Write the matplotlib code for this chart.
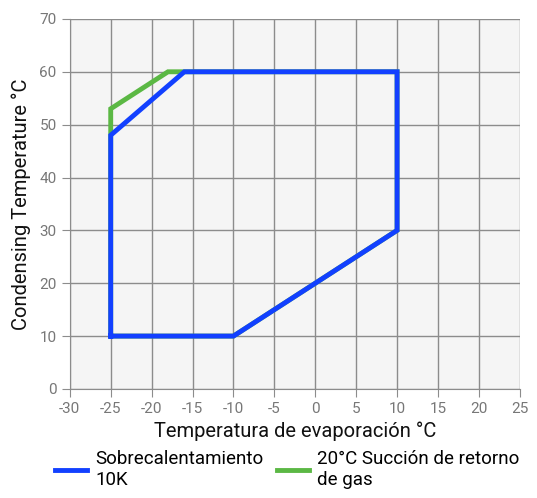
import matplotlib.pyplot as plt

plt.rcParams['font.family'] = ['Roboto', 'DejaVu Sans']
plt.rcParams['axes.unicode_minus'] = False

# envelope for 10K superheat
blue_x = [-25, -10, 10, 10, -16, -25, -25]
blue_y = [10, 10, 30, 60, 60, 48, 10]
# envelope for 20°C return gas
green_x = [-25, -10, 10, 10, -18, -25, -25]
green_y = [10, 10, 30, 60, 60, 53, 10]

x_ticks = list(range(-30, 30, 5))
y_ticks = list(range(0, 80, 10))

fig = plt.figure(figsize=(5.37, 4.98), dpi=100)
ax = fig.add_axes([0.130, 0.219, 0.838, 0.743])
ax.set_facecolor('#f5f5f5')

ax.plot(green_x, green_y, color='#5bb844', lw=3.5, solid_joinstyle='miter', zorder=3,
        label='20°C Succión de retorno\nde gas')
ax.plot(blue_x, blue_y, color='#1240ff', lw=3.5, solid_joinstyle='miter', zorder=4,
        label='Sobrecalentamiento\n10K')

ax.set_xlim(-30, 25)
ax.set_ylim(0, 70)
ax.set_xticks(x_ticks)
ax.set_yticks(y_ticks)
ax.grid(True, color='#8c8c8c', lw=1)
ax.set_axisbelow(True)
for s in ['top', 'right']:
    ax.spines[s].set_visible(False)
for s in ['left', 'bottom']:
    ax.spines[s].set_color('#8c8c8c')
ax.tick_params(colors='#8c8c8c', labelsize=11, length=6, labelcolor='#777777')

ax.set_xlabel('Temperatura de evaporación °C', fontsize=14.5, color='#111111', labelpad=4)
ax.set_ylabel('Condensing Temperature °C', fontsize=14.5, color='#111111', labelpad=6)

fig.text(0.535, 1.018, 'YB-KE-TFCYE', color='#1240ff', fontsize=16, ha='center', va='center')

h, l = ax.get_legend_handles_labels()
fig.legend(h[::-1], l[::-1], loc='lower center', bbox_to_anchor=(0.535, -0.015), ncol=2,
           frameon=False, fontsize=13.5, handlelength=1.7, handletextpad=0.45,
           columnspacing=0.7, labelspacing=0.2)

fig.savefig('out.png', dpi=100)
